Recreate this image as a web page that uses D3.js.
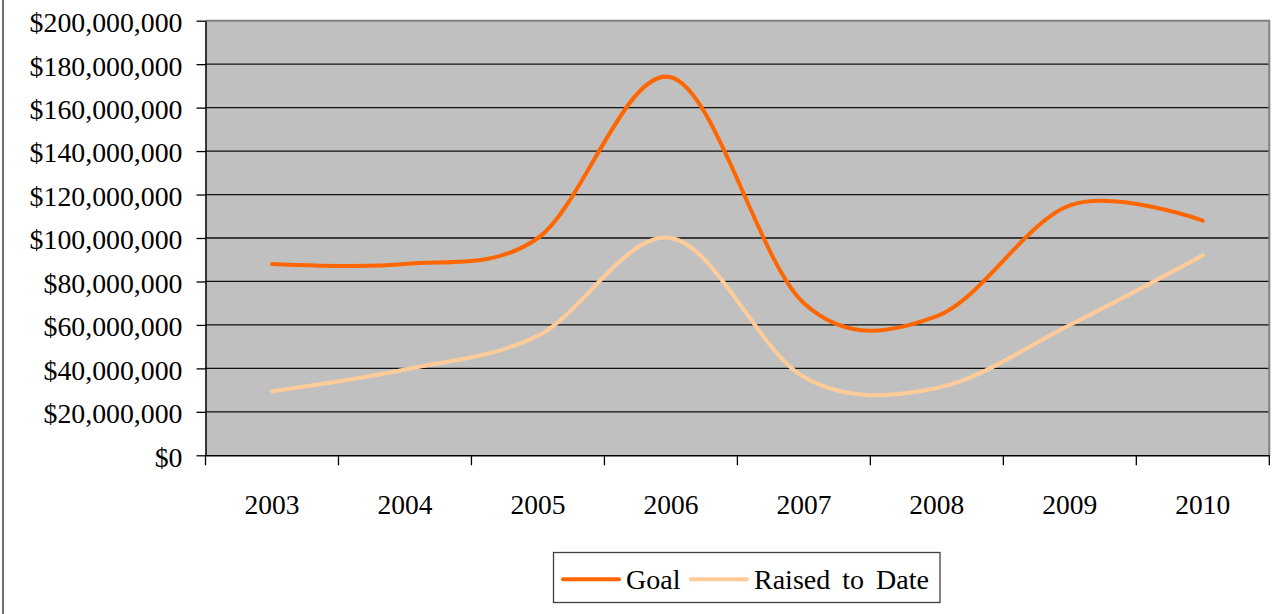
<!DOCTYPE html>
<html>
<head>
<meta charset="utf-8">
<script src="https://cdn.jsdelivr.net/npm/d3@7"></script>
<style>
  html, body { margin: 0; padding: 0; background: #fff; }
  svg { display: block; }
  text { font-family: "Liberation Serif", "Times New Roman", serif; fill: #000; }
</style>
</head>
<body>
<svg id="chart" width="1275" height="614"></svg>
<script>
// Fundraising campaign: yearly goal vs. amount raised to date
const years = ["2003", "2004", "2005", "2006", "2007", "2008", "2009", "2010"];
const goal = [88e6, 88e6, 100e6, 174e6, 70e6, 64e6, 115e6, 108e6];
const raised = [29.5e6, 39.5e6, 55e6, 100e6, 36e6, 31e6, 60e6, 92e6];
const yTicks = [0, 20e6, 40e6, 60e6, 80e6, 100e6, 120e6, 140e6, 160e6, 180e6, 200e6];
const seriesNames = ["Goal", "Raised to Date"];
const seriesColors = ["#FF6600", "#FFCC99"];

const svg = d3.select("#chart");
const plot = { left: 205.5, right: 1269.3, top: 20.7, bottom: 455.3 };
const serif = '"Liberation Serif", "Times New Roman", serif';

// outer chart frame (only its left edge falls inside the view)
svg.append("rect")
  .attr("x", 3).attr("y", -10).attr("width", 1400).attr("height", 700)
  .attr("fill", "none").attr("stroke", "#404040").attr("stroke-width", 1.5);

const x = d3.scaleBand().domain(years).range([plot.left, plot.right]).padding(0);
const y = d3.scaleLinear().domain([0, 200e6]).range([plot.bottom, plot.top]);
const cx = d => x(d) + x.bandwidth() / 2;

// plot background
svg.append("rect")
  .attr("x", plot.left).attr("y", plot.top)
  .attr("width", plot.right - plot.left).attr("height", plot.bottom - plot.top)
  .attr("fill", "#C0C0C0");

// horizontal gridlines
svg.append("g").selectAll("line")
  .data(yTicks.filter(v => v > 0 && v < 200e6))
  .join("line")
  .attr("x1", plot.left).attr("x2", plot.right)
  .attr("y1", d => y(d)).attr("y2", d => y(d))
  .attr("stroke", "#111").attr("stroke-width", 1.3);

// top and right plot border
svg.append("path")
  .attr("d", `M${plot.left},${plot.top}H${plot.right}V${plot.bottom}`)
  .attr("fill", "none").attr("stroke", "#808080").attr("stroke-width", 2);

// y axis
const fmt = d3.format(",");
const yAxis = svg.append("g")
  .attr("transform", `translate(${plot.left},0)`)
  .call(d3.axisLeft(y).tickValues(yTicks).tickSize(9).tickSizeOuter(0).tickPadding(14)
    .tickFormat(d => "$" + fmt(d)));
yAxis.selectAll("text").attr("font-size", 27.8).attr("dy", "0.39em")
  .style("font-family", serif);
yAxis.selectAll("line").attr("stroke", "#000").attr("stroke-width", 1.3);
yAxis.select(".domain").attr("stroke", "#000").attr("stroke-width", 1.5);

// x axis: labels centred on each year, ticks on the year boundaries
const xAxis = svg.append("g")
  .attr("transform", `translate(0,${plot.bottom})`)
  .call(d3.axisBottom(x).tickSize(0).tickSizeOuter(0).tickPadding(0));
xAxis.select(".domain").attr("stroke", "#000").attr("stroke-width", 1.5);
xAxis.selectAll("text").attr("font-size", 27.5).attr("y", 59).attr("dy", 0)
  .style("font-family", serif);
const bounds = years.map(d => x(d)).concat([x.range()[1]]);
xAxis.append("g").selectAll("line")
  .data(bounds)
  .join("line")
  .attr("x1", d => d).attr("x2", d => d)
  .attr("y1", 0).attr("y2", 10)
  .attr("stroke", "#000").attr("stroke-width", 1.3);

// smoothed series lines
const line = d3.line()
  .x((d, i) => cx(years[i]))
  .y(d => y(d))
  .curve(d3.curveCardinal.tension(0));

[raised, goal].forEach((vals, k) => {
  const idx = k === 0 ? 1 : 0;
  svg.append("path")
    .datum(vals)
    .attr("d", line)
    .attr("fill", "none")
    .attr("stroke", seriesColors[idx])
    .attr("stroke-width", 4)
    .attr("stroke-linejoin", "round")
    .attr("stroke-linecap", "round");
});

// legend
const legend = svg.append("g");
legend.append("rect")
  .attr("x", 553.5).attr("y", 552.5).attr("width", 386.5).attr("height", 50)
  .attr("fill", "#fff").attr("stroke", "#404040").attr("stroke-width", 1.3);
const legendItems = [
  { x1: 563, x2: 619, tx: 626 },
  { x1: 691, x2: 747, tx: 754 }
];
legendItems.forEach((it, i) => {
  legend.append("line")
    .attr("x1", it.x1).attr("x2", it.x2).attr("y1", 579.3).attr("y2", 579.3)
    .attr("stroke", seriesColors[i]).attr("stroke-width", 4).attr("stroke-linecap", "round");
  legend.append("text")
    .attr("x", it.tx).attr("y", 589).attr("font-size", 28)
    .attr("word-spacing", 5)
    .text(seriesNames[i]);
});
</script>
</body>
</html>
